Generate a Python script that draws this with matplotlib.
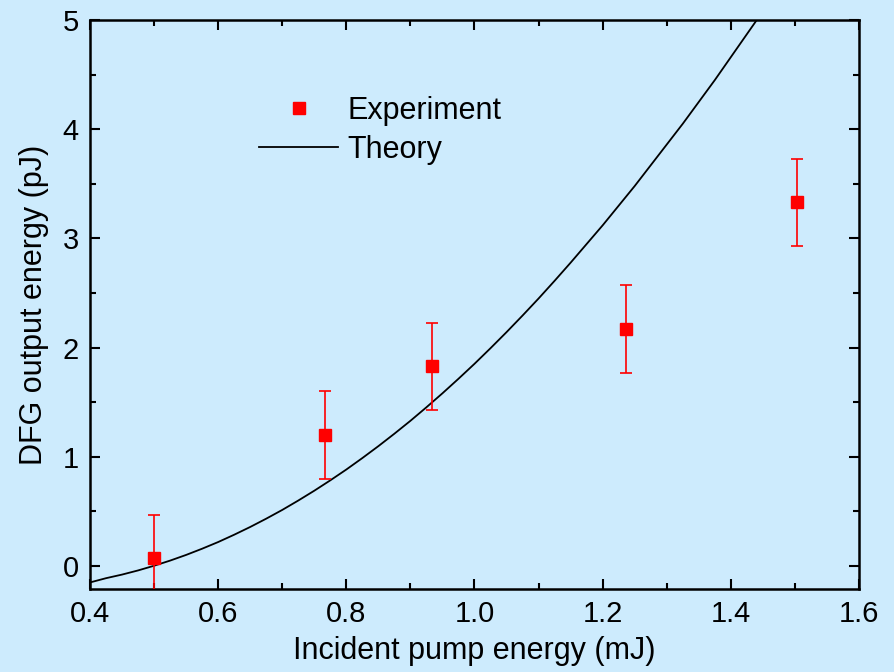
import matplotlib
matplotlib.use("Agg")
import matplotlib.pyplot as plt
from matplotlib.lines import Line2D
from matplotlib.ticker import MultipleLocator

plt.rcParams['font.family'] = ['Liberation Sans', 'DejaVu Sans']

# Measured DFG output
pump_energy = [0.50, 0.766, 0.934, 1.236, 1.503]
dfg_energy = [0.07, 1.20, 1.83, 2.17, 3.33]
dfg_error = [0.40, 0.40, 0.40, 0.40, 0.40]

# Theoretical prediction
theory_pump = [0.400, 0.425, 0.450, 0.475, 0.500, 0.525, 0.550, 0.575,
               0.600, 0.625, 0.650, 0.675, 0.700, 0.725, 0.750, 0.775,
               0.800, 0.825, 0.850, 0.875, 0.900, 0.925, 0.950, 0.975,
               1.000, 1.025, 1.050, 1.075, 1.100, 1.125, 1.150, 1.175,
               1.200, 1.225, 1.250, 1.275, 1.300, 1.325, 1.350, 1.375,
               1.400, 1.425, 1.450]
theory_dfg = [-0.150, -0.111, -0.078, -0.040, 0.003, 0.050, 0.102, 0.159,
              0.220, 0.287, 0.358, 0.434, 0.514, 0.600, 0.690, 0.785,
              0.884, 0.989, 1.098, 1.212, 1.330, 1.454, 1.582, 1.715,
              1.852, 1.995, 2.142, 2.294, 2.450, 2.612, 2.778, 2.949,
              3.120, 3.300, 3.480, 3.670, 3.860, 4.050, 4.250, 4.450,
              4.660, 4.870, 5.080]

x_ticks = [0.4, 0.6, 0.8, 1.0, 1.2, 1.4, 1.6]
x_tick_labels = ['0.4', '0.6', '0.8', '1.0', '1.2', '1.4', '1.6']

bg = '#cdebfd'
fig = plt.figure(figsize=(8.94, 6.72), dpi=100, facecolor=bg)
ax = fig.add_axes([90 / 894, 83 / 672, 769 / 894, 569 / 672], facecolor=bg)

ax.errorbar(pump_energy, dfg_energy, yerr=dfg_error, fmt='s', color='red',
            ecolor='red', elinewidth=1.2, capsize=4.4, capthick=1.2,
            markersize=8.6, zorder=3)
ax.plot(theory_pump, theory_dfg, color='black', linewidth=1.3, zorder=2)

ax.set_xlim(0.4, 1.6)
ax.set_ylim(-0.21, 5)
ax.set_xticks(x_ticks)
ax.set_xticklabels(x_tick_labels)
ax.xaxis.set_minor_locator(MultipleLocator(0.1))
ax.yaxis.set_major_locator(MultipleLocator(1))
ax.yaxis.set_minor_locator(MultipleLocator(0.5))

ax.tick_params(which='both', direction='in', top=True, right=True,
               width=1.5, labelsize=21, pad=8)
ax.tick_params(which='major', length=7)
ax.tick_params(which='minor', length=4)
for s in ax.spines.values():
    s.set_linewidth(1.8)

ax.set_xlabel('Incident pump energy (mJ)', fontsize=22, labelpad=6)
ax.set_ylabel('DFG output energy (pJ)', fontsize=22, labelpad=10)

handles = [
    Line2D([], [], linestyle='none', marker='s', color='red', markersize=8.6),
    Line2D([], [], color='black', linewidth=1.3),
]
ax.legend(handles, ['Experiment', 'Theory'], loc='upper left',
          bbox_to_anchor=(259 / 894, 1 - 96 / 672),
          bbox_transform=fig.transFigure, frameon=False, fontsize=22,
          handlelength=2.6, handletextpad=0.3, labelspacing=0.3,
          borderpad=0, borderaxespad=0)

fig.savefig('out.png', dpi=100, facecolor=bg)
